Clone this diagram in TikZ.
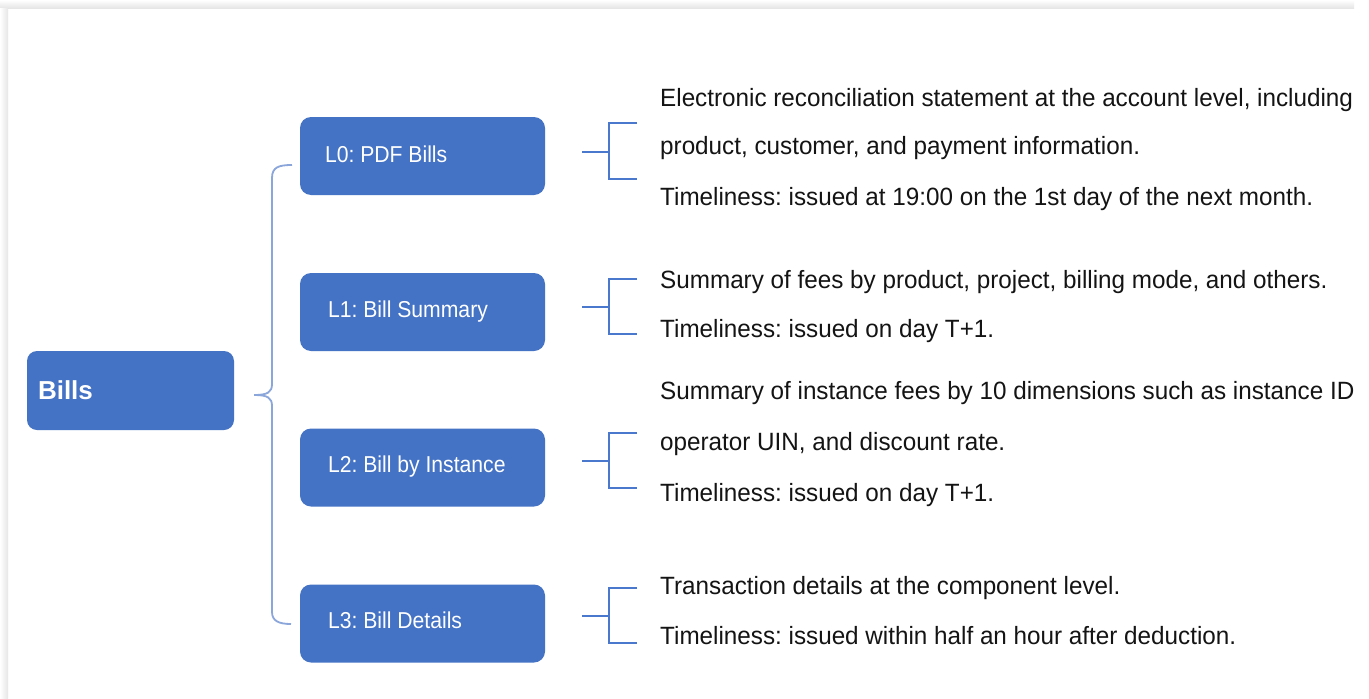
\documentclass[tikz,border=0pt]{standalone}
\usepackage{fontspec}
\usetikzlibrary{calc}
\setmainfont{Liberation Sans}
\newfontfamily\boxfont[FakeStretch=0.92]{Liberation Sans}
\newfontfamily\txtfont[FakeStretch=0.97]{Liberation Sans}
\definecolor{boxblue}{HTML}{4472C4}
\definecolor{bracelt}{HTML}{8AA6DA}
\definecolor{brk}{HTML}{4A78CC}
\definecolor{txt}{HTML}{141414}
\frenchspacing
\begin{document}
\begin{tikzpicture}[x=1pt,y=-1pt,
  lvl/.style={draw=none, fill=boxblue, rounded corners=11pt, minimum width=245pt, minimum height=78pt, inner sep=0pt},
  root/.style={draw=none, fill=boxblue, rounded corners=10pt, minimum width=207pt, minimum height=79pt, inner sep=0pt},
  lvltxt/.style={anchor=base west, inner sep=0pt, text=white, font=\boxfont\fontsize{23}{27}\selectfont},
  roottxt/.style={anchor=base west, inner sep=0pt, text=white, font=\bfseries\fontsize{26}{30}\selectfont},
  desc/.style={anchor=base west, inner sep=0pt, text=txt, font=\txtfont\fontsize{25}{30}\selectfont},
  bigbrace/.style={draw=bracelt, line width=1.8pt},
  smallbrk/.style={draw=brk, line width=1.5pt}
]
\useasboundingbox (0,0) rectangle (1369,699);
\fill[white] (0,0) rectangle (1369,699);
% soft frame shadow
\shade[top color=white, bottom color=black!10] (0,0) rectangle (1354,8);
\shade[left color=white, right color=black!10] (0,8) rectangle (8,699);

% boxes
\node[root] (bills) at (130.5,390.5) {};
\node[lvl] (l0) at (422.5,156) {};
\node[lvl] (l1) at (422.5,312) {};
\node[lvl] (l2) at (422.5,467.5) {};
\node[lvl] (l3) at (422.5,623.5) {};
% box texts
\node[roottxt] (billst) at ($(bills.west)+(11,8.5)$) {Bills};
\node[lvltxt] (l0t) at ($(l0.west)+(25,6)$) {L0: PDF Bills};
\node[lvltxt] (l1t) at ($(l1.west)+(28,5)$) {L1: Bill Summary};
\node[lvltxt] (l2t) at ($(l2.west)+(28,5)$) {L2: Bill by Instance};
\node[lvltxt] (l3t) at ($(l3.west)+(28,5)$) {L3: Bill Details};

% big brace
\coordinate (bcusp) at ($(bills.east)+(20,4.5)$);
\coordinate (btop) at (292,165);
\coordinate (bbot) at (291,624);
\draw[bigbrace] (btop) .. controls (279,165) and (272,167) .. (272,178) -- (272,384)
  .. controls (272,392) and (268,395) .. (bcusp)
  .. controls (268,395) and (272,398) .. (272,406) -- (272,612)
  .. controls (272,621) and (279,624) .. (bbot);

% small brackets
\foreach \n/\ys/\yt/\yb in {l0/152/123/179, l1/307/279/334, l2/461/433/488, l3/616/588/643}{
  \coordinate (\n s) at (582,\ys);
  \coordinate (\n v) at (609,\ys);
  \draw[smallbrk] (\n s) -- (\n v);
  \draw[smallbrk] (637,\yt) -- (609,\yt) -- (609,\yb) -- (637,\yb);
}

% descriptions
\node[desc] (d0a) at (660,106) {Electronic reconciliation statement at the account level, including};
\node[desc] (d0b) at (660,154) {product, customer, and payment information.};
\node[desc] (d0c) at (660,205) {Timeliness: issued at 19:00 on the 1st day of the next month.};
\node[desc] (d1a) at (660,288) {Summary of fees by product, project, billing mode, and others.};
\node[desc] (d1b) at (660,337) {Timeliness: issued on day T+1.};
\node[desc] (d2a) at (660,399) {Summary of instance fees by 10 dimensions such as instance ID};
\node[desc] (d2b) at (660,450) {operator UIN, and discount rate.};
\node[desc] (d2c) at (660,501) {Timeliness: issued on day T+1.};
\node[desc] (d3a) at (660,594) {Transaction details at the component level.};
\node[desc] (d3b) at (660,644) {Timeliness: issued within half an hour after deduction.};
\end{tikzpicture}
\end{document}
